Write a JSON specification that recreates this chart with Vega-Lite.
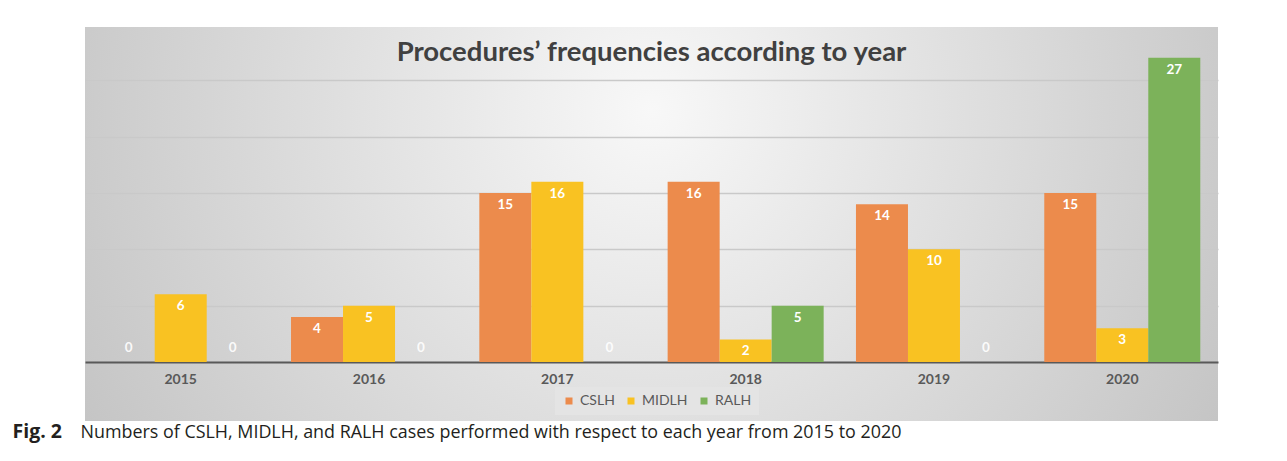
{
  "$schema": "https://vega.github.io/schema/vega-lite/v6.json",
  "width": 1133,
  "height": 394,
  "autosize": "none",
  "padding": {"left": 85, "top": 27, "right": 69, "bottom": 40},
  "background": "white",
  "title": {
    "text": "Procedures’ frequencies according to year",
    "anchor": "middle",
    "font": "Lato",
    "fontSize": 27.5,
    "fontWeight": "bold",
    "color": "#404040",
    "offset": -39
  },
  "data": {
    "values": [
      {"year": "2015", "procedure": "CSLH", "n": 0},
      {"year": "2015", "procedure": "MIDLH", "n": 6},
      {"year": "2015", "procedure": "RALH", "n": 0},
      {"year": "2016", "procedure": "CSLH", "n": 4},
      {"year": "2016", "procedure": "MIDLH", "n": 5},
      {"year": "2016", "procedure": "RALH", "n": 0},
      {"year": "2017", "procedure": "CSLH", "n": 15},
      {"year": "2017", "procedure": "MIDLH", "n": 16},
      {"year": "2017", "procedure": "RALH", "n": 0},
      {"year": "2018", "procedure": "CSLH", "n": 16},
      {"year": "2018", "procedure": "MIDLH", "n": 2},
      {"year": "2018", "procedure": "RALH", "n": 5},
      {"year": "2019", "procedure": "CSLH", "n": 14},
      {"year": "2019", "procedure": "MIDLH", "n": 10},
      {"year": "2019", "procedure": "RALH", "n": 0},
      {"year": "2020", "procedure": "CSLH", "n": 15},
      {"year": "2020", "procedure": "MIDLH", "n": 3},
      {"year": "2020", "procedure": "RALH", "n": 27}
    ]
  },
  "encoding": {
    "x": {
      "field": "year",
      "type": "nominal",
      "scale": {"paddingInner": 0.1715, "paddingOuter": 0.094},
      "axis": {
        "orient": "bottom",
        "offset": -59,
        "domainColor": "#595959",
        "domainWidth": 2,
        "ticks": false,
        "labelAngle": 0,
        "labelFont": "Lato",
        "labelFontWeight": "bold",
        "labelFontSize": 14,
        "labelColor": "#595959",
        "labelPadding": 10,
        "title": "Numbers of CSLH, MIDLH, and RALH cases performed with respect to each year from 2015 to 2020",
        "titleX": -5,
        "titleY": 75,
        "titleAlign": "left",
        "titleAnchor": "start",
        "titleBaseline": "alphabetic",
        "titleFont": "Open Sans",
        "titleFontWeight": "normal",
        "titleFontSize": 17.9,
        "titleColor": "#231f20"
      }
    },
    "xOffset": {"field": "procedure", "type": "nominal", "sort": ["CSLH", "MIDLH", "RALH"], "scale": {"paddingInner": 0, "paddingOuter": 0}},
    "y": {
      "field": "n",
      "type": "quantitative",
      "scale": {"domain": [-5.235, 29.72], "nice": false, "zero": false},
      "axis": {
        "values": [5, 10, 15, 20, 25],
        "grid": true,
        "gridColor": "#C9C9C9",
        "gridWidth": 1.6,
        "labels": false,
        "ticks": false,
        "domain": false,
        "title": "Fig. 2",
        "titleAngle": 0,
        "titleX": -73,
        "titleY": 410,
        "titleAlign": "left",
        "titleBaseline": "alphabetic",
        "titleFont": "Open Sans",
        "titleFontWeight": "bold",
        "titleFontSize": 19.5,
        "titleColor": "#231f20"
      }
    }
  },
  "layer": [
    {
      "mark": {"type": "bar"},
      "encoding": {
        "y2": {"datum": 0},
        "color": {
          "field": "procedure",
          "type": "nominal",
          "scale": {"domain": ["CSLH", "MIDLH", "RALH"], "range": ["#EC8B4C", "#F9C222", "#7CB25A"]},
          "legend": {
            "orient": "none",
            "legendX": 470,
            "legendY": 360,
            "direction": "horizontal",
            "title": null,
            "padding": 7,
            "fillColor": "#E4E4E4",
            "symbolType": "square",
            "symbolSize": 49,
            "symbolStrokeWidth": 0,
            "labelFont": "Lato",
            "labelFontSize": 14,
            "labelColor": "#595959",
            "labelOffset": 4,
            "columnPadding": 9
          }
        }
      }
    },
    {
      "transform": [{"filter": "datum.n > 0"}],
      "mark": {"type": "text", "font": "Lato", "fontWeight": "bold", "fontSize": 13.5, "color": "white", "baseline": "middle", "dy": 12},
      "encoding": {
        "text": {"field": "n", "type": "quantitative"}
      }
    },
    {
      "transform": [{"filter": "datum.n === 0"}],
      "mark": {"type": "text", "font": "Lato", "fontWeight": "bold", "fontSize": 13.5, "color": "white", "opacity": 0.9, "baseline": "middle", "dy": -14},
      "encoding": {
        "text": {"field": "n", "type": "quantitative"}
      }
    }
  ],
  "config": {
    "view": {
      "stroke": null,
      "fill": {
        "gradient": "radial",
        "x1": 0.5, "y1": 0.4, "r1": 0,
        "x2": 0.5, "y2": 0.4, "r2": 0.68,
        "stops": [
          {"offset": 0, "color": "#F8F8F8"},
          {"offset": 1, "color": "#BBBBBB"}
        ]
      }
    }
  }
}
